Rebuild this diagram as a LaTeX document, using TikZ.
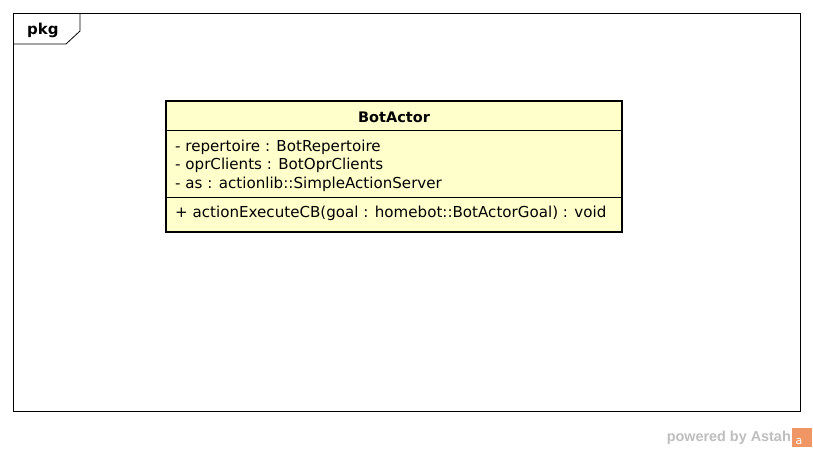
\documentclass[tikz,border=0pt]{standalone}
\usepackage{fontspec}
\setmainfont{DejaVu Sans}
\newfontfamily\logofont{Liberation Sans}
\begin{document}
\begin{tikzpicture}[x=1pt,y=-1pt,
  txt/.style={inner sep=0pt,anchor=west,font=\fontsize{15.1}{17}\selectfont},
  classbox/.style={draw=black,line width=2.2pt,fill=classfill}]
\definecolor{classfill}{RGB}{255,255,204}
\definecolor{logogray}{RGB}{190,190,190}
\definecolor{logoorange}{RGB}{240,150,100}
\useasboundingbox[fill=white] (0,0) rectangle (813,452);
% frame
\draw[line width=0.8pt] (13,13) rectangle (800,411);
\draw[line width=0.8pt] (13,44) -- (66,44) -- (80,31) -- (80,13);
\node[inner sep=0pt,anchor=west,font=\bfseries\fontsize{15}{17}\selectfont] (pkg) at (27,30) {pkg};
% class
\path[classbox] (166,101) rectangle (622,232);
\coordinate (cl) at (166,101);
\draw[line width=0.6pt] (167,130) -- (621,130);
\draw[line width=0.6pt] (167,197) -- (621,197);
\node[inner sep=0pt,font=\bfseries\fontsize{14.5}{17}\selectfont] (name) at (394,117) {BotActor};
\node[txt] (a1) at (175,147) {- repertoire : BotRepertoire};
\node[txt] (a2) at (175,165) {- oprClients : BotOprClients};
\node[txt] (a3) at (175,184) {- as : actionlib::SimpleActionServer};
\node[txt] (o1) at (175,213.5) {+ actionExecuteCB(goal : homebot::BotActorGoal) : void};
% logo
\node[inner sep=0pt,anchor=east,text=logogray,font=\logofont\bfseries\fontsize{14.4}{16}\selectfont] (logo) at (791,438) {powered by Astah};
\fill[logoorange] (792,428) rectangle (812,447);
\node[inner sep=0pt,text=white,font=\fontsize{11}{12}\selectfont] (logoa) at (799,441) {a};
\end{tikzpicture}
\end{document}
